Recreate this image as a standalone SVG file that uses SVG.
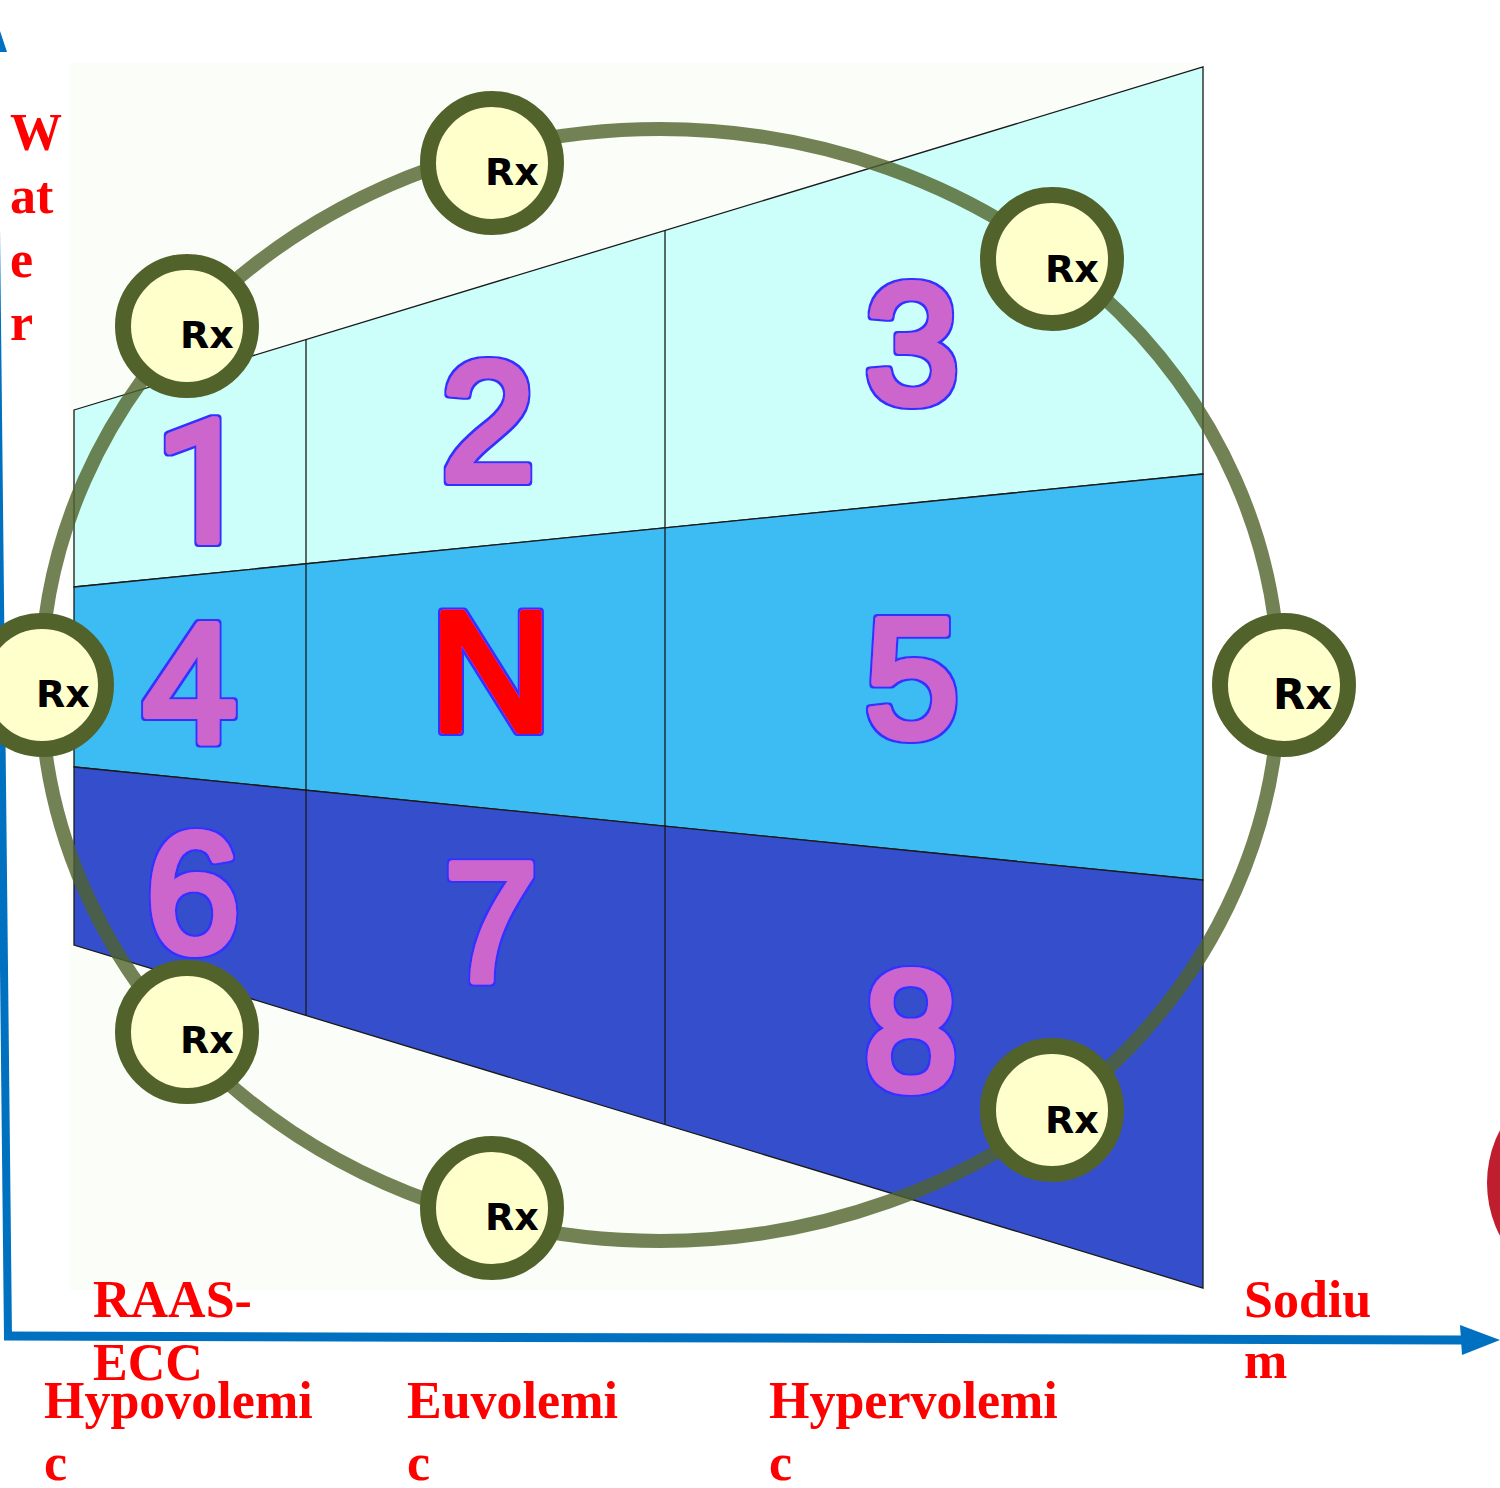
<svg xmlns="http://www.w3.org/2000/svg" width="1500" height="1488" viewBox="0 0 1500 1488">
<style>
.lbl{font-family:"Liberation Serif","Times New Roman",serif;font-weight:bold;font-size:52px;fill:#ff0000}
.num{font-family:"Liberation Sans",Arial,sans-serif;font-size:168px;fill:#cc66cc;stroke:#cc66cc;stroke-width:8;stroke-linejoin:round;stroke-linecap:round;text-anchor:middle}
.rx{font-family:"DejaVu Sans",sans-serif;font-weight:bold;font-size:38px;fill:#000}
.ring{fill:#ffffcc;stroke:#52622b;stroke-width:16}
.pane{stroke:#1a1a1a;stroke-width:1.3}
</style>
<defs>
<filter id="outline" x="-10%" y="-10%" width="120%" height="120%">
<feMorphology in="SourceAlpha" operator="dilate" radius="1.6" result="d"/>
<feFlood flood-color="#3333ff"/>
<feComposite in2="d" operator="in" result="o"/>
<feMerge><feMergeNode in="o"/><feMergeNode in="SourceGraphic"/></feMerge>
</filter>
</defs>
<rect x="0" y="0" width="1500" height="1488" fill="#ffffff"/>
<rect x="70" y="63" width="1135" height="1227" fill="#fbfdf8"/>
<g id="panels">
<polygon class="pane" fill="#ccfffa" points="74,410 1203,67 1203,474 74,587"/>
<polygon class="pane" fill="#3dbbf3" points="74,587 1203,474 1203,880 74,767"/>
<polygon class="pane" fill="#354fcc" points="74,767 1203,880 1203,1288 74,945"/>
<line class="pane" x1="306" y1="340" x2="306" y2="1015"/>
<line class="pane" x1="665" y1="230" x2="665" y2="1124"/>
</g>
<g id="numbers" filter="url(#outline)">
<text class="num" x="203" y="541" style="font-family:Roboto,sans-serif">1</text>
<text class="num" x="488" y="480">2</text>
<text class="num" x="912" y="402">3</text>
<text class="num" x="190" y="741">4</text>
<text class="num" x="491" y="730" style="fill:#ff0000;stroke:#ff0000">N</text>
<text class="num" x="912" y="736">5</text>
<text class="num" x="193" y="951">6</text>
<text class="num" x="491" y="981">7</text>
<text class="num" x="911" y="1089">8</text>
</g>
<circle cx="1601" cy="1183" r="114" fill="#be1e2d"/>
<g id="connectors">
<ellipse cx="660" cy="685" rx="619" ry="556" fill="none" stroke="#50632a" stroke-width="14" opacity="0.8"/>
<line x1="-6" y1="44" x2="8" y2="1338" stroke="#0070c0" stroke-width="8"/>
<polygon points="-7,10 7,52 -21,52" fill="#0070c0"/>
<line x1="4" y1="1336" x2="1465" y2="1340" stroke="#0070c0" stroke-width="9"/>
<polygon points="1500,1340 1460,1325 1462,1355" fill="#0070c0"/>
</g>
<g id="rx1"><circle class="ring" cx="492" cy="163" r="64"/><text class="rx" x="485" y="185">Rx</text></g>
<g id="rx2"><circle class="ring" cx="187" cy="326" r="64"/><text class="rx" x="180" y="348">Rx</text></g>
<g id="rx3"><circle class="ring" cx="1052" cy="259" r="64"/><text class="rx" x="1045" y="282">Rx</text></g>
<g id="rx4"><circle class="ring" cx="42" cy="685" r="64"/><text class="rx" x="36" y="707">Rx</text></g>
<g id="rx5"><circle class="ring" cx="1284" cy="685" r="64"/><text class="rx" x="1273" y="709" style="font-size:42px">Rx</text></g>
<g id="rx6"><circle class="ring" cx="187" cy="1032" r="64"/><text class="rx" x="180" y="1053">Rx</text></g>
<g id="rx7"><circle class="ring" cx="1052" cy="1110" r="64"/><text class="rx" x="1045" y="1133">Rx</text></g>
<g id="rx8"><circle class="ring" cx="492" cy="1208" r="64"/><text class="rx" x="485" y="1230">Rx</text></g>
<g id="labels">
<text class="lbl" x="10" y="150">W</text>
<text class="lbl" x="10" y="213">at</text>
<text class="lbl" x="10" y="277">e</text>
<text class="lbl" x="10" y="340">r</text>
<text class="lbl" x="93" y="1317">RAAS-</text>
<text class="lbl" x="93" y="1380">ECC</text>
<text class="lbl" x="44" y="1418">Hypovolemi</text>
<text class="lbl" x="44" y="1480">c</text>
<text class="lbl" x="407" y="1418">Euvolemi</text>
<text class="lbl" x="407" y="1480">c</text>
<text class="lbl" x="769" y="1418">Hypervolemi</text>
<text class="lbl" x="769" y="1480">c</text>
<text class="lbl" x="1244" y="1317">Sodiu</text>
<text class="lbl" x="1244" y="1378">m</text>
</g>
</svg>
